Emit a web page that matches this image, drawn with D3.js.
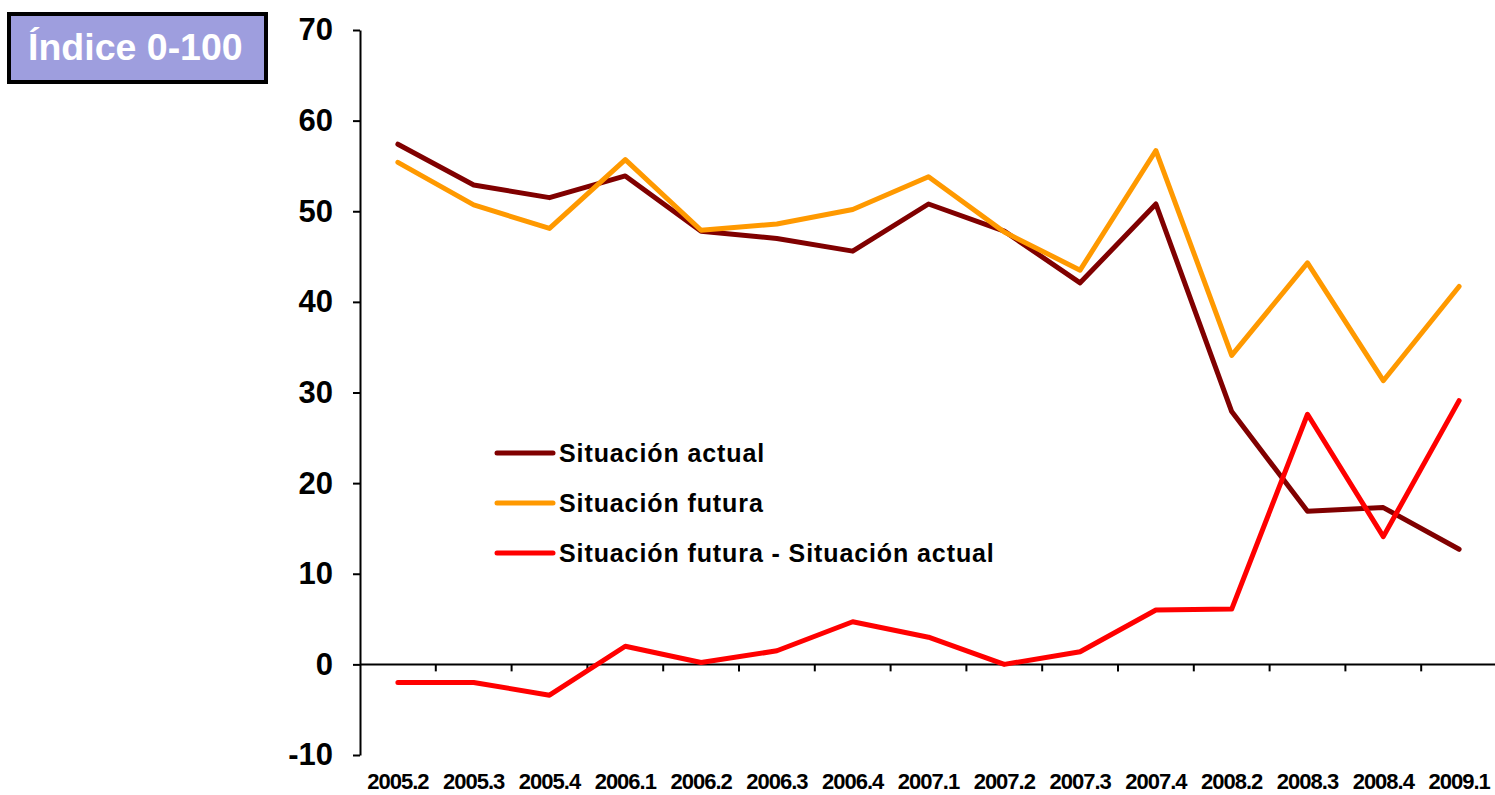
<!DOCTYPE html>
<html>
<head>
<meta charset="utf-8">
<script src="https://cdn.jsdelivr.net/npm/d3@7"></script>
<style>
  body { margin: 0; background: #fff; }
  svg { display: block; font-family: Arial, "Liberation Sans", sans-serif; }
</style>
</head>
<body>
<svg id="chart" width="1495" height="795"></svg>
<script>
// quarters (2008.1 is not in the source)
var quarters = ['2005.2', '2005.3', '2005.4', '2006.1', '2006.2', '2006.3', '2006.4', '2007.1',
                '2007.2', '2007.3', '2007.4', '2008.2', '2008.3', '2008.4', '2009.1'];
var actual = [57.4, 52.9, 51.5, 53.9, 47.8, 47.0, 45.6, 50.8, 47.8, 42.1, 50.8, 27.9, 16.9, 17.3, 12.7];
var future = [55.4, 50.7, 48.1, 55.7, 47.9, 48.6, 50.2, 53.8, 47.7, 43.5, 56.7, 34.1, 44.3, 31.3, 41.7];
var diff = [-2.0, -2.0, -3.4, 2.0, 0.2, 1.5, 4.7, 3.0, 0.0, 1.4, 6.0, 6.1, 27.6, 14.1, 29.1];
var yTicks = [-10, 0, 10, 20, 30, 40, 50, 60, 70];
var seriesNames = ['Situación actual', 'Situación futura', 'Situación futura - Situación actual'];
var seriesColors = ['#800000', '#FF9900', '#FF0000'];

var svg = d3.select('#chart');

var x = d3.scaleBand().domain(quarters).range([360, 1497]);
var y = d3.scaleLinear().domain([-10, 70]).range([755, 30]);

// title box
svg.append('rect')
    .attr('x', 9).attr('y', 14)
    .attr('width', 257).attr('height', 68)
    .attr('fill', '#9E9EDE')
    .attr('stroke', '#000')
    .attr('stroke-width', 4);
svg.append('text')
    .attr('x', 28).attr('y', 60)
    .attr('fill', '#fff')
    .attr('font-size', 37.5)
    .attr('font-weight', 'bold')
    .text('Índice 0-100');

// y axis
var yAxis = svg.append('g')
    .attr('transform', 'translate(360,0)')
    .call(d3.axisLeft(y).tickValues(yTicks).tickFormat(d => String(d))
        .tickSize(7).tickPadding(20).tickSizeOuter(0));
yAxis.select('.domain').attr('stroke', '#000').attr('stroke-width', 2);
yAxis.selectAll('.tick line').attr('stroke-width', 2);
yAxis.selectAll('.tick text')
    .attr('font-size', 31)
    .attr('font-weight', 'bold')
    .attr('font-family', 'Arial, "Liberation Sans", sans-serif')
    .attr('fill', '#000');

// x axis line at zero, ticks between categories
var xg = svg.append('g');
xg.append('line')
    .attr('x1', 360).attr('x2', 1497)
    .attr('y1', y(0)).attr('y2', y(0))
    .attr('stroke', '#000').attr('stroke-width', 2);
xg.selectAll('.xtick')
    .data(quarters.slice(1))
    .join('line')
    .attr('class', 'xtick')
    .attr('x1', d => x(d)).attr('x2', d => x(d))
    .attr('y1', y(0)).attr('y2', y(0) + 7)
    .attr('stroke', '#000').attr('stroke-width', 2);
xg.selectAll('.xlabel')
    .data(quarters)
    .join('text')
    .attr('class', 'xlabel')
    .attr('x', d => x(d) + x.bandwidth() / 2)
    .attr('y', 789)
    .attr('text-anchor', 'middle')
    .attr('font-size', 22)
    .attr('font-weight', 'bold')
    .attr('letter-spacing', -1)
    .text(d => d);

// lines
var line = d3.line()
    .x((d, i) => x(quarters[i]) + x.bandwidth() / 2)
    .y(d => y(d));

[actual, future, diff].forEach(function (vals, k) {
    svg.append('path')
        .datum(vals)
        .attr('d', line)
        .attr('fill', 'none')
        .attr('stroke', seriesColors[k])
        .attr('stroke-width', 5)
        .attr('stroke-linejoin', 'round')
        .attr('stroke-linecap', 'round');
});

// legend
var legend = svg.append('g').attr('transform', 'translate(497,453)');
seriesNames.forEach(function (name, k) {
    var row = legend.append('g').attr('transform', 'translate(0,' + (k * 50) + ')');
    row.append('line')
        .attr('x1', 0).attr('x2', 56)
        .attr('stroke', seriesColors[k])
        .attr('stroke-width', 5)
        .attr('stroke-linecap', 'round');
    row.append('text')
        .attr('x', 62).attr('y', 9)
        .attr('font-size', 25)
        .attr('font-weight', 'bold')
        .attr('letter-spacing', 0.9)
        .text(name);
});
</script>
</body>
</html>
